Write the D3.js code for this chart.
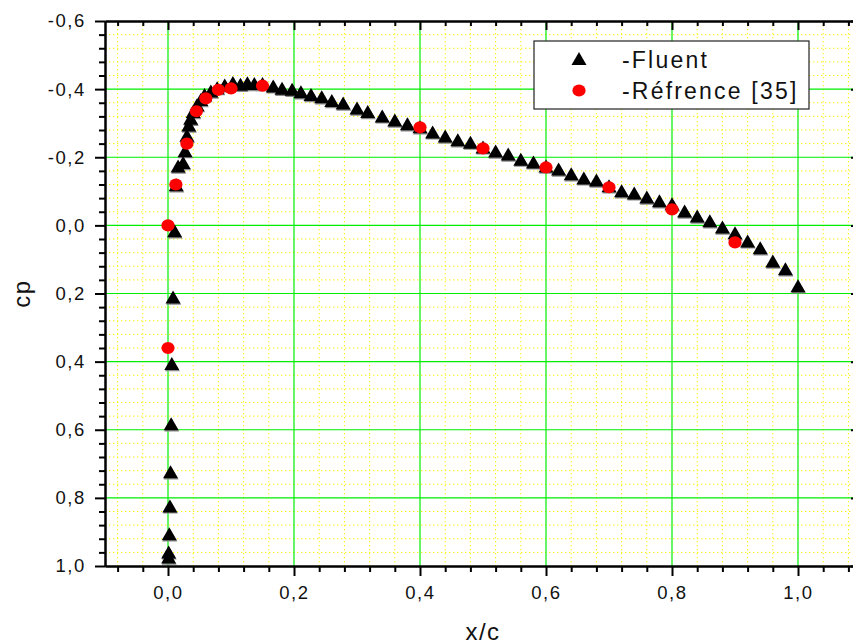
<!DOCTYPE html>
<html>
<head>
<meta charset="utf-8">
<script src="https://cdn.jsdelivr.net/npm/d3@7"></script>
<style>
  body { margin: 0; background: #fff; }
  svg { display: block; font-family: "Liberation Sans", Arial, sans-serif; }
</style>
</head>
<body>
<script>
// data
let fluentX = [0.001, 0.001, 0.002, 0.003, 0.004, 0.005, 0.006, 0.008, 0.0105,
  0.013, 0.016, 0.024, 0.027, 0.030, 0.033, 0.036, 0.040, 0.046, 0.052, 0.058, 0.068, 0.078, 0.090,
  0.103, 0.115, 0.126, 0.137, 0.150, 0.167, 0.181, 0.197, 0.211, 0.227, 0.244, 0.260, 0.278, 0.300, 0.317,
  0.34, 0.36, 0.38, 0.40, 0.42, 0.44, 0.46, 0.48, 0.50, 0.52, 0.54, 0.56, 0.58, 0.60, 0.62, 0.64, 0.66, 0.68,
  0.70, 0.72, 0.74, 0.76, 0.78, 0.80, 0.82, 0.84, 0.86, 0.88, 0.90, 0.92, 0.94, 0.96, 0.98, 1.00]
let fluentCp = [0.978, 0.963, 0.91, 0.828, 0.728, 0.587, 0.41, 0.215, 0.02,
  -0.115, -0.17, -0.18, -0.215, -0.26, -0.29, -0.31, -0.33, -0.35, -0.365, -0.38, -0.39, -0.40, -0.408,
  -0.415, -0.41, -0.414, -0.412, -0.412, -0.405, -0.398, -0.395, -0.388, -0.38, -0.373, -0.362, -0.355, -0.34, -0.33,
  -0.317, -0.305, -0.294, -0.285, -0.27, -0.258, -0.247, -0.24, -0.226, -0.214, -0.205, -0.19, -0.182, -0.17, -0.161, -0.147, -0.135, -0.129,
  -0.112, -0.097, -0.091, -0.079, -0.068, -0.059, -0.038, -0.023, -0.009, 0.009, 0.026, 0.05, 0.07, 0.109, 0.132, 0.182]

let refX  = [0, 0, 0.0125, 0.03, 0.045, 0.06, 0.08, 0.10, 0.15, 0.40, 0.50, 0.60, 0.70, 0.80, 0.90]
let refCp = [0.36, 0.0, -0.12, -0.24, -0.335, -0.373, -0.398, -0.402, -0.41, -0.288, -0.226, -0.17, -0.112, -0.047, 0.05]

let xMajor = [0, 0.2, 0.4, 0.6, 0.8, 1.0]
let yMajor = [-0.6, -0.4, -0.2, 0, 0.2, 0.4, 0.6, 0.8, 1.0]
let legendNames = ["-Fluent", "-Réfrence [35]"]

let width = 853, height = 644
let plotL = 105, plotR = 861, plotT = 21, plotB = 566

const svg = d3.select("body").append("svg").attr("width", width).attr("height", height)

const x = d3.scaleLinear().domain([-0.1, 1.1]).range([plotL, plotR])
const y = d3.scaleLinear().domain([-0.6, 1.0]).range([plotT, plotB])

const locale = d3.formatLocale({decimal: ",", thousands: ".", grouping: [3], currency: ["", ""], minus: "-"})
const fmt = locale.format(".1f")

// minor ticks every 0.04
const near = (v, arr) => arr.some(m => Math.abs(m - v) < 1e-6)
let xMinor = d3.range(-0.08, 1.1, 0.04).map(v => +v.toFixed(2)).filter(v => !near(v, xMajor))
let yMinor = d3.range(-0.56, 1.0, 0.04).map(v => +v.toFixed(2)).filter(v => !near(v, yMajor))

// grid
const grid = svg.append("g")
grid.selectAll(".vmin").data(xMinor).enter().append("line")
  .attr("x1", d => x(d)).attr("x2", d => x(d)).attr("y1", plotT).attr("y2", plotB)
  .attr("stroke", "#f8f800").attr("stroke-width", 1).attr("stroke-dasharray", "1.3,2.7")
grid.selectAll(".hmin").data(yMinor).enter().append("line")
  .attr("x1", plotL).attr("x2", plotR).attr("y1", d => y(d)).attr("y2", d => y(d))
  .attr("stroke", "#f8f800").attr("stroke-width", 1).attr("stroke-dasharray", "1.3,2.7")
grid.selectAll(".vmaj").data(xMajor).enter().append("line")
  .attr("x1", d => x(d)).attr("x2", d => x(d)).attr("y1", plotT).attr("y2", plotB)
  .attr("stroke", "#00ee00").attr("stroke-width", 1.2)
grid.selectAll(".hmaj").data(yMajor.slice(1, -1)).enter().append("line")
  .attr("x1", plotL).attr("x2", plotR).attr("y1", d => y(d)).attr("y2", d => y(d))
  .attr("stroke", "#00ee00").attr("stroke-width", 1.2)

// axes
function styleAxis(g) {
  g.selectAll("path.domain").attr("stroke", "#000").attr("stroke-width", 2)
  g.selectAll(".tick line").attr("stroke", "#000").attr("stroke-width", 2)
  g.selectAll(".tick text").attr("font-size", 18.5).attr("letter-spacing", 1.6)
    .attr("fill", "#111").attr("font-family", "Liberation Sans, Arial, sans-serif")
}

// bottom
svg.append("g").attr("transform", `translate(0,${plotB})`)
  .call(d3.axisBottom(x).tickValues(xMinor).tickSize(6).tickSizeOuter(0).tickFormat(""))
  .call(styleAxis)
svg.append("g").attr("transform", `translate(0,${plotB})`)
  .call(d3.axisBottom(x).tickValues(xMajor).tickSize(10).tickSizeOuter(0).tickFormat(fmt).tickPadding(10))
  .call(styleAxis)
// top (ticks inward)
svg.append("g").attr("transform", `translate(0,${plotT})`)
  .call(d3.axisBottom(x).tickValues(xMinor).tickSize(5).tickSizeOuter(0).tickFormat(""))
  .call(styleAxis)
svg.append("g").attr("transform", `translate(0,${plotT})`)
  .call(d3.axisBottom(x).tickValues(xMajor).tickSize(9).tickSizeOuter(0).tickFormat(""))
  .call(styleAxis)
// left
svg.append("g").attr("transform", `translate(${plotL},0)`)
  .call(d3.axisLeft(y).tickValues(yMinor).tickSize(6).tickSizeOuter(0).tickFormat(""))
  .call(styleAxis)
svg.append("g").attr("transform", `translate(${plotL},0)`)
  .call(d3.axisLeft(y).tickValues(yMajor).tickSize(10).tickSizeOuter(0).tickFormat(fmt).tickPadding(9))
  .call(styleAxis)
// right (mostly off the picture)
svg.append("g").attr("transform", `translate(${plotR},0)`)
  .call(d3.axisLeft(y).tickValues(yMajor).tickSize(10).tickSizeOuter(0).tickFormat(""))
  .call(styleAxis)

// axis titles
svg.append("text").attr("x", (plotL + plotR) / 2).attr("y", 640)
  .attr("text-anchor", "middle").attr("font-size", 24).attr("letter-spacing", 1.5).attr("fill", "#111")
  .text("x/c")
svg.append("text").attr("transform", `translate(30,${(plotT + plotB) / 2}) rotate(-90)`)
  .attr("text-anchor", "middle").attr("font-size", 24).attr("letter-spacing", 1.5).attr("fill", "#111")
  .text("cp")

// markers
const tri = "M0,-8L7.5,5L-7.5,5Z"
const fluent = fluentX.map((v, i) => ({x: v, cp: fluentCp[i]}))
const ref = refX.map((v, i) => ({x: v, cp: refCp[i]}))

svg.append("g").selectAll("path").data(fluent).enter().append("path")
  .attr("d", tri).attr("transform", d => `translate(${x(d.x) + 0.6},${y(d.cp) + 1.2})`)
  .attr("fill", "#8a8a8a")
svg.append("g").selectAll("path").data(fluent).enter().append("path")
  .attr("d", tri).attr("transform", d => `translate(${x(d.x)},${y(d.cp)})`)
  .attr("fill", "#000")
svg.append("g").selectAll("ellipse").data(ref).enter().append("ellipse")
  .attr("cx", d => x(d.x)).attr("cy", d => y(d.cp)).attr("rx", 6.6).attr("ry", 6.1)
  .attr("fill", "#ff0000")

// legend
const lg = svg.append("g")
lg.append("rect").attr("x", 534).attr("y", 41).attr("width", 275).attr("height", 68)
  .attr("fill", "#fff").attr("stroke", "#222").attr("stroke-width", 1.2)
lg.append("path").attr("d", tri).attr("transform", "translate(579,60)").attr("fill", "#000")
lg.append("ellipse").attr("cx", 579).attr("cy", 90.5).attr("rx", 6.6).attr("ry", 6.1).attr("fill", "#ff0000")
lg.selectAll("text").data(legendNames).enter().append("text")
  .attr("x", 622).attr("y", (d, i) => i ? 99 : 68)
  .attr("font-size", 23).attr("letter-spacing", 2.2).attr("fill", "#111")
  .text(d => d)
</script>
</body>
</html>
